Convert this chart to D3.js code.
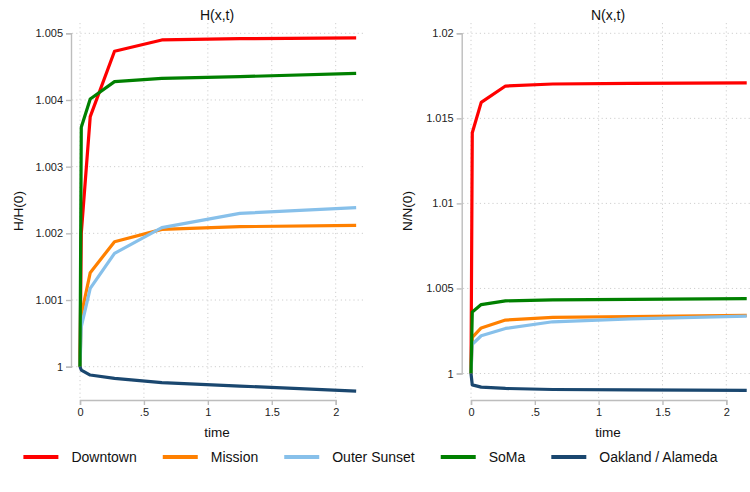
<!DOCTYPE html>
<html>
<head>
<meta charset="utf-8">
<script src="https://cdn.jsdelivr.net/npm/d3@7"></script>
<style>
body { margin: 0; background: #fff; }
svg { display: block; font-family: "Liberation Sans", Arial, Helvetica, sans-serif; }
.grid line { stroke: #cfcfcf; stroke-width: 1; stroke-dasharray: 1.2,3; }
.axis path, .axis line { stroke: #bdbdbd; stroke-width: 1.4; }
.axis text { fill: #222; font-size: 11px; }
</style>
</head>
<body>
<div id="chart"></div>
<script>
// data: time grid and ratios for each area
var times = [0, 0.01, 0.08, 0.27, 0.64, 1.25, 2.16];
var areas = ["Downtown", "Mission", "Outer Sunset", "SoMa", "Oakland / Alameda"];
var colors = ["#ff0000", "#ff8000", "#87c0ea", "#008000", "#1a476f"];

var downtownH = [1, 1.0020, 1.00375, 1.00473, 1.00490, 1.00492, 1.00493];
var missionH  = [1, 1.000775, 1.00141, 1.001875, 1.00206, 1.0021, 1.00212];
var sunsetH   = [1, 1.0006, 1.001175, 1.0017, 1.002085, 1.0023, 1.002385];
var somaH     = [1, 1.00359, 1.004015, 1.004275, 1.004325, 1.00435, 1.0044];
var oaklandH  = [1, 0.99995, 0.999875, 0.999825, 0.99976, 0.99971, 0.999635];

var downtownN = [1, 1.01415, 1.01594, 1.0169, 1.01702, 1.01706, 1.01709];
var missionN  = [1, 1.00212, 1.00268, 1.00314, 1.0033, 1.00335, 1.00342];
var sunsetN   = [1, 1.00172, 1.00222, 1.00265, 1.00304, 1.00321, 1.00337];
var somaN     = [1, 1.00362, 1.00405, 1.00427, 1.00433, 1.00436, 1.0044];
var oaklandN  = [1, 0.99933, 0.9992, 0.99912, 0.99906, 0.99904, 0.99901];

var xTicks = [0, 0.5, 1, 1.5, 2];
var yTicksH = [1, 1.001, 1.002, 1.003, 1.004, 1.005];
var yTicksN = [1, 1.005, 1.01, 1.015, 1.02];

var width = 750, height = 492;

var svg = d3.select("#chart").append("svg")
	.attr("width", width)
	.attr("height", height);

var fmtX = function (d) { return d3.format("")(d).replace(/^0\./, "."); };
var fmtY = function (d) { return String(+d.toFixed(3)); };

function drawPanel(p) {
	var x = d3.scaleLinear().domain([0, 2]).range([p.x0, p.x2]);
	var y = d3.scaleLinear().domain([p.yTicks[0], p.yTicks[p.yTicks.length - 1]]).range([p.yBot, p.yTop]);
	var g = svg.append("g");

	// grid
	var grid = g.append("g").attr("class", "grid");
	grid.selectAll(".hg").data(p.yTicks).enter().append("line")
		.attr("x1", p.gl).attr("x2", p.gr)
		.attr("y1", function (d) { return y(d); }).attr("y2", function (d) { return y(d); });
	grid.selectAll(".vg").data(xTicks).enter().append("line")
		.attr("x1", function (d) { return x(d); }).attr("x2", function (d) { return x(d); })
		.attr("y1", 23).attr("y2", 400);

	// axes
	g.append("g").attr("class", "axis")
		.attr("transform", "translate(" + p.yAxisX + ",0)")
		.call(d3.axisLeft(y).tickValues(p.yTicks).tickFormat(fmtY).tickSizeOuter(0).tickSize(5).tickPadding(3));
	g.append("g").attr("class", "axis")
		.attr("transform", "translate(0,400)")
		.call(d3.axisBottom(x).tickValues(xTicks).tickFormat(fmtX).tickSizeOuter(0).tickSize(5).tickPadding(3));

	// series
	var line = d3.line()
		.x(function (d, i) { return x(times[i]); })
		.y(function (d) { return y(d); });
	p.series.forEach(function (s, i) {
		g.append("path")
			.attr("d", line(s))
			.attr("fill", "none")
			.attr("stroke", colors[i])
			.attr("stroke-width", 3.2)
			.attr("stroke-linejoin", "round");
	});

	// titles
	g.append("text").attr("x", p.cx).attr("y", 20).attr("text-anchor", "middle")
		.attr("font-size", 14).attr("fill", "#111").text(p.title);
	g.append("text").attr("x", p.cx).attr("y", 437).attr("text-anchor", "middle")
		.attr("font-size", 13.5).attr("fill", "#111").text("time");
	g.append("text").attr("transform", "translate(" + p.ylx + ",211) rotate(-90)")
		.attr("text-anchor", "middle").attr("font-size", 13.5).attr("fill", "#111").text(p.ylab);
}

drawPanel({
	title: "H(x,t)", ylab: "H/H(0)",
	series: [downtownH, missionH, sunsetH, somaH, oaklandH],
	yTicks: yTicksH,
	x0: 80, x2: 335.7, yBot: 366.7, yTop: 33.3,
	yAxisX: 71, gl: 72, gr: 363, cx: 217, ylx: 23
});

drawPanel({
	title: "N(x,t)", ylab: "N/N(0)",
	series: [downtownN, missionN, sunsetN, somaN, oaklandN],
	yTicks: yTicksN,
	x0: 471, x2: 726.3, yBot: 373.5, yTop: 33.3,
	yAxisX: 461.7, gl: 463, gr: 750, cx: 608, ylx: 412
});

// legend
var leg = svg.append("g");
var items = leg.selectAll("g").data(areas).enter().append("g");
items.append("line")
	.attr("x1", 0).attr("x2", 35).attr("y1", 0).attr("y2", 0)
	.attr("stroke", function (d, i) { return colors[i]; })
	.attr("stroke-width", 3.8);
items.append("text")
	.attr("x", 48).attr("y", 5)
	.attr("font-size", 14).attr("fill", "#111")
	.text(function (d) { return d; });
var pos = 0;
items.each(function () {
	var w = 48 + d3.select(this).select("text").node().getComputedTextLength();
	d3.select(this).attr("transform", "translate(" + pos + ",0)");
	pos += w + 26;
});
pos -= 26;
leg.attr("transform", "translate(" + (370.5 - pos / 2) + ",457)");
</script>
</body>
</html>
